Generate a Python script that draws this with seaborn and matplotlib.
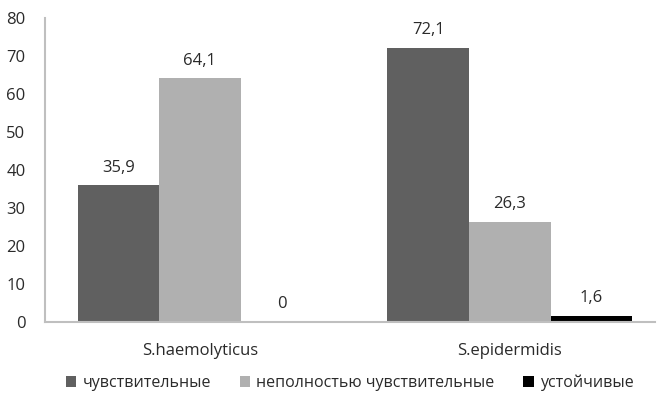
import matplotlib
matplotlib.use("Agg")
import matplotlib.pyplot as plt
import seaborn as sns
import pandas as pd

categories = ["S.haemolyticus", "S.epidermidis"]
series_names = ["чувствительные", "неполностью чувствительные", "устойчивые"]
sensitive = [35.9, 72.1]
partial = [64.1, 26.3]
resistant = [0.0, 1.6]
y_ticks = [0, 10, 20, 30, 40, 50, 60, 70, 80]

rows = []
for name, vals in zip(series_names, [sensitive, partial, resistant]):
    for cat, v in zip(categories, vals):
        rows.append({"cat": cat, "series": name, "value": v})
df = pd.DataFrame(rows)

sns.set_style("white")
plt.rcParams["font.family"] = ["Open Sans", "DejaVu Sans"]

text_color = "#2a2a2a"
fig = plt.figure(figsize=(6.57, 3.96), dpi=100)
ax = fig.add_axes([0.0685, 0.187, 0.928, 0.768])

palette = ["#606060", "#b0b0b0", "#000000"]
sns.barplot(data=df, x="cat", y="value", hue="series", hue_order=series_names,
            order=categories, palette=palette, width=0.79, saturation=1,
            linewidth=0, ax=ax, legend=True)


def fmt(v):
    return "0" if v == 0 else f"{v:.1f}".replace(".", ",")


for cont in ax.containers:
    ax.bar_label(cont, labels=[fmt(b.get_height()) for b in cont],
                 padding=7, fontsize=12, color=text_color)

ax.set_ylim(0, 80)
ax.set_yticks(y_ticks)
ax.set_xlim(-0.5, 1.468)
ax.set_xlabel("")
ax.set_ylabel("")
ax.tick_params(axis="both", length=0, labelsize=12, labelcolor=text_color)
ax.tick_params(axis="x", pad=15)
ax.tick_params(axis="y", pad=14)

for side in ["top", "right"]:
    ax.spines[side].set_visible(False)
for side in ["left", "bottom"]:
    ax.spines[side].set_color("#bfbfbf")
    ax.spines[side].set_linewidth(1.5)

ax.legend(loc="lower center", bbox_to_anchor=(0.5, -0.275), ncol=3,
          frameon=False, fontsize=11.5, handlelength=0.65, handleheight=0.65,
          handletextpad=0.4, columnspacing=1.8, labelcolor=text_color)

fig.savefig("out.png", dpi=100)
